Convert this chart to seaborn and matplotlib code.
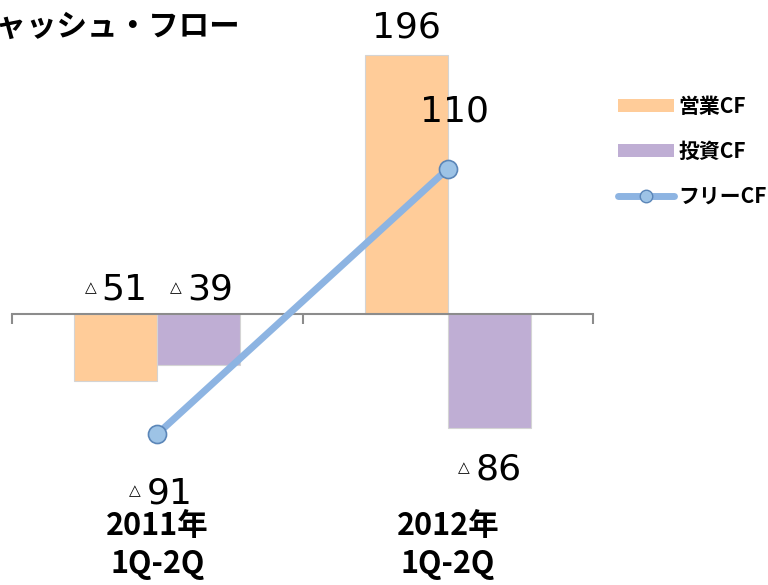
import numpy as np
import pandas as pd
import seaborn as sns
import matplotlib.pyplot as plt
import matplotlib.transforms as mtrans
from matplotlib.patches import Patch
from matplotlib.lines import Line2D

# データ (億円)
periods = ["2011年\n1Q-2Q", "2012年\n1Q-2Q"]
cf_types = ["営業CF", "投資CF"]
operating_cf = [-51, 196]
investing_cf = [-39, -86]
free_cf = [-91, 110]

sns.set_style("white")
plt.rcParams['font.family'] = ['Noto Sans CJK JP', 'DejaVu Sans']
plt.rcParams['text.color'] = 'black'

ORANGE = "#FFCC99"
PURPLE = "#BFAED4"
BLUE = "#8DB4E2"

df = pd.DataFrame({
    "period": periods * 2,
    "type": [cf_types[0]] * 2 + [cf_types[1]] * 2,
    "value": operating_cf + investing_cf,
})

fig = plt.figure(figsize=(7.68, 5.85), dpi=100)
ax = fig.add_axes([12 / 768, 0.1925, 581 / 768, 0.7446])

sns.barplot(data=df, x="period", y="value", hue="type", order=periods,
            hue_order=cf_types, palette=[ORANGE, PURPLE], saturation=1, width=0.572,
            gap=0, edgecolor="#d4d4d4", linewidth=0.8, legend=False, ax=ax)

xs = np.arange(len(periods))
sns.lineplot(x=xs, y=free_cf, color=BLUE, linewidth=5, marker="o",
             markersize=13, markerfacecolor="#9DC3E6", markeredgecolor="#5B86B8",
             markeredgewidth=1.2, zorder=5, ax=ax)

ax.set_xlim(-0.5, 1.5)
ax.set_ylim(-120, 210)
ax.set_xlabel("")
ax.set_ylabel("")
ax.set_yticks([])
for s in ["top", "left", "right"]:
    ax.spines[s].set_visible(False)
ax.spines["bottom"].set_position(("data", 0))
ax.spines["bottom"].set_color("#8c8c8c")
ax.spines["bottom"].set_linewidth(1.5)
ax.set_xticks([-0.5, 0.5, 1.5])
ax.set_xticklabels([])
ax.tick_params(axis="x", bottom=True, direction="out", length=7, width=1.5,
               color="#8c8c8c")


def put_value(x, y, value, dx, dy):
    # 負の値は小さい△を付ける
    if value < 0:
        ax.annotate(str(-value), xy=(x, y), xytext=(dx + 9, dy), textcoords="offset pixels",
                    ha="center", va="center", fontsize=26, family="DejaVu Sans")
        ax.annotate("△", xy=(x, y), xytext=(dx - 25, dy + 2), textcoords="offset pixels",
                    ha="center", va="center", fontsize=11, family="DejaVu Sans")
    else:
        ax.annotate(str(value), xy=(x, y), xytext=(dx, dy), textcoords="offset pixels",
                    ha="center", va="center", fontsize=26, family="DejaVu Sans")


off = 0.286 / 2
put_value(0 - off, 0, operating_cf[0], 0, 24)
put_value(0 + off, 0, investing_cf[0], 2, 24)
put_value(1 - off, operating_cf[1], operating_cf[1], 0, 28)
put_value(1 + off, investing_cf[1], investing_cf[1], 0, -42)
put_value(0, free_cf[0], free_cf[0], 3, -59)
put_value(1, free_cf[1], free_cf[1], 7, 57)

# カテゴリラベル
blend = mtrans.blended_transform_factory(ax.transData, fig.transFigure)
for i, p in enumerate(periods):
    ax.text(i, 1 - 545 / 585, p, transform=blend, ha="center", va="center",
            fontsize=22, fontweight="bold", linespacing=1.25)

fig.text(240 / 768, 1 - 28 / 585, "キャッシュ・フロー", ha="right", va="center",
         fontsize=22, fontweight="bold")

handles = [
    Patch(facecolor=ORANGE, edgecolor="none"),
    Patch(facecolor=PURPLE, edgecolor="none"),
    Line2D([], [], color=BLUE, linewidth=5, marker="o", markersize=9,
           markerfacecolor="#9DC3E6", markeredgecolor="#5B86B8"),
]
fig.legend(handles, cf_types + ["フリーCF"], loc="upper left",
           bbox_to_anchor=(618 / 768, 1 - 96 / 585), frameon=False,
           prop={"size": 15, "weight": "bold"}, handlelength=2.7, handleheight=0.6,
           handletextpad=0.2, labelspacing=1.15, borderpad=0, borderaxespad=0)

fig.savefig("out.png", dpi=100)
